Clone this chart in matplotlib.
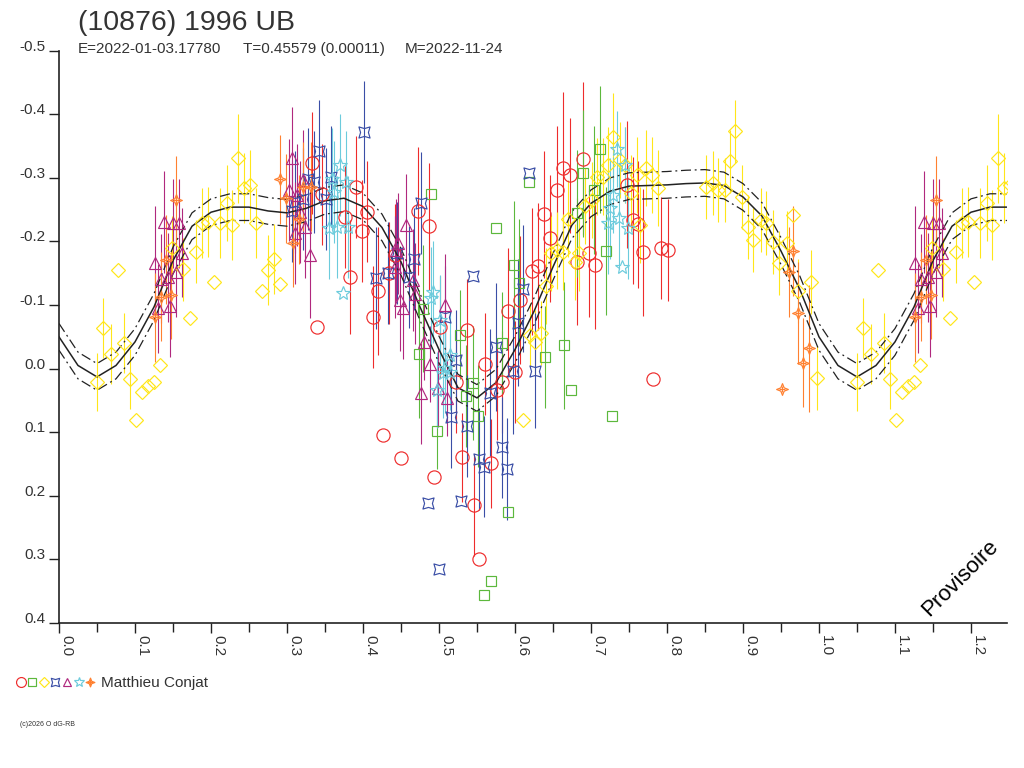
import numpy as np
import matplotlib
matplotlib.use('Agg')
import matplotlib.pyplot as plt
from matplotlib.path import Path
from matplotlib.transforms import Affine2D
from matplotlib.lines import Line2D
from matplotlib.legend_handler import HandlerTuple

plt.rcParams['font.family'] = ['Liberation Sans', 'DejaVu Sans']

# ---------------- text ----------------
TITLE = "(10876) 1996 UB"
SUB_E = "E=2022-01-03.17780"
SUB_T = "T=0.45579 (0.00011)"
SUB_M = "M=2022-11-24"
OBSERVER = "Matthieu Conjat"
STAMP = "(c)2026 O dG-RB"
WATERMARK = "Provisoire"

# ---------------- axes ----------------
PHASE_MAX = 1.2474
x_ticks = [0.0, 0.1, 0.2, 0.3, 0.4, 0.5, 0.6, 0.7, 0.8, 0.9, 1.0, 1.1, 1.2]
x_tick_labels = ["0.0", "0.1", "0.2", "0.3", "0.4", "0.5", "0.6", "0.7", "0.8", "0.9", "1.0", "1.1", "1.2"]
y_ticks = [-0.5, -0.4, -0.3, -0.2, -0.1, 0.0, 0.1, 0.2, 0.3, 0.4]
y_tick_labels = ["-0.5", "-0.4", "-0.3", "-0.2", "-0.1", "0.0", "0.1", "0.2", "0.3", "0.4"]

# ---------------- fitted curve ----------------
fit_phase = [0.000, 0.025, 0.050, 0.075, 0.100, 0.125, 0.150, 0.175, 0.200, 0.225,
             0.250, 0.275, 0.300, 0.325, 0.350, 0.375, 0.400, 0.425, 0.450, 0.475,
             0.500, 0.525, 0.550, 0.575, 0.600, 0.625, 0.650, 0.675, 0.700, 0.725,
             0.750, 0.775, 0.800, 0.825, 0.850, 0.875, 0.900, 0.925, 0.950, 0.975, 1.000]
fit_mag = [-0.050, -0.005, 0.013, -0.005, -0.042, -0.097, -0.170, -0.224, -0.246, -0.254,
           -0.254, -0.248, -0.245, -0.252, -0.264, -0.268, -0.255, -0.222, -0.168, -0.097,
           -0.030, 0.030, 0.046, 0.022, -0.030, -0.090, -0.160, -0.226, -0.260, -0.279,
           -0.287, -0.288, -0.289, -0.291, -0.292, -0.288, -0.270, -0.240, -0.185, -0.124, -0.050]
fit_sigma = 0.021

# ---------------- observations ----------------
red_phase = [0.333, 0.339, 0.346, 0.376, 0.383, 0.391, 0.399, 0.405, 0.413, 0.420,
             0.434, 0.442, 0.472, 0.487, 0.501, 0.537, 0.560, 0.426, 0.450, 0.493,
             0.591, 0.607, 0.623, 0.630, 0.638, 0.646, 0.530, 0.568, 0.546, 0.553,
             0.522, 0.583, 0.576, 0.600, 0.681, 0.697, 0.705, 0.755, 0.762, 0.769,
             0.792, 0.801, 0.781, 0.663, 0.673, 0.689, 0.655, 0.747]
red_mag = [-0.323, -0.066, -0.274, -0.238, -0.144, -0.286, -0.217, -0.247, -0.081, -0.122,
           -0.150, -0.179, -0.248, -0.224, -0.066, -0.061, -0.007, 0.105, 0.141, 0.171,
           -0.090, -0.108, -0.153, -0.161, -0.243, -0.205, 0.139, 0.149, 0.214, 0.300,
           0.021, 0.021, 0.033, 0.005, -0.168, -0.182, -0.163, -0.233, -0.227, -0.183,
           -0.190, -0.187, 0.017, -0.315, -0.304, -0.330, -0.281, -0.289]
red_err = [0.08, 0.0, 0.08, 0.08, 0.09, 0.08, 0.08, 0.08, 0.08, 0.10,
           0.08, 0.08, 0.10, 0.10, 0.08, 0.08, 0.08, 0.0, 0.0, 0.0,
           0.10, 0.10, 0.10, 0.10, 0.10, 0.10, 0.07, 0.07, 0.08, 0.0,
           0.08, 0.08, 0.08, 0.08, 0.10, 0.10, 0.10, 0.10, 0.10, 0.10,
           0.08, 0.08, 0.0, 0.12, 0.09, 0.12, 0.10, 0.10]

green_phase = [0.575, 0.599, 0.605, 0.528, 0.583, 0.474, 0.545, 0.536, 0.551, 0.497,
               0.591, 0.568, 0.559, 0.665, 0.674, 0.640, 0.681, 0.720, 0.728, 0.479,
               0.712, 0.689, 0.704, 0.618, 0.489]
green_mag = [-0.221, -0.163, -0.135, -0.053, -0.040, -0.023, 0.023, 0.043, 0.074, 0.098,
             0.226, 0.334, 0.356, -0.037, 0.033, -0.018, -0.244, -0.185, 0.074, -0.094,
             -0.345, -0.307, -0.281, -0.293, -0.275]
green_err = [0.0, 0.10, 0.10, 0.07, 0.08, 0.10, 0.09, 0.08, 0.08, 0.06,
             0.0, 0.0, 0.0, 0.10, 0.0, 0.08, 0.10, 0.10, 0.0, 0.10,
             0.10, 0.10, 0.10, 0.0, 0.0]

yellow_phase = [0.050, 0.058, 0.068, 0.086, 0.093, 0.101, 0.109, 0.117, 0.125, 0.133,
                0.078, 0.172, 0.163, 0.180, 0.188, 0.196, 0.212, 0.228, 0.221, 0.204,
                0.259, 0.267, 0.275, 0.283, 0.291, 0.236, 0.243, 0.251, 0.149, 0.611,
                0.620, 0.626, 0.634, 0.641, 0.648, 0.655, 0.663, 0.670, 0.679, 0.684,
                0.692, 0.701, 0.708, 0.716, 0.722, 0.729, 0.738, 0.745, 0.753, 0.760,
                0.765, 0.773, 0.780, 0.788, 0.851, 0.861, 0.867, 0.876, 0.883, 0.889,
                0.899, 0.906, 0.913, 0.924, 0.930, 0.939, 0.947, 0.958, 0.966, 0.972,
                0.989, 0.997]
yellow_mag = [0.021, -0.064, -0.023, -0.040, 0.016, 0.081, 0.037, 0.028, 0.021, -0.006,
              -0.155, -0.079, -0.156, -0.184, -0.229, -0.231, -0.229, -0.226, -0.260, -0.136,
              -0.229, -0.122, -0.155, -0.172, -0.133, -0.331, -0.284, -0.289, -0.190, 0.081,
              -0.053, -0.042, -0.056, -0.130, -0.182, -0.186, -0.183, -0.236, -0.168, -0.182,
              -0.256, -0.265, -0.302, -0.302, -0.320, -0.364, -0.328, -0.320, -0.276, -0.304,
              -0.226, -0.315, -0.304, -0.284, -0.286, -0.292, -0.281, -0.281, -0.326, -0.373,
              -0.270, -0.223, -0.202, -0.234, -0.229, -0.199, -0.166, -0.198, -0.241, -0.122,
              -0.136, 0.015]
yellow_err = [0.046, 0.047, 0.047, 0.047, 0.047, 0.0, 0.0, 0.0, 0.0, 0.0,
              0.0, 0.0, 0.05, 0.05, 0.055, 0.055, 0.055, 0.055, 0.06, 0.0,
              0.055, 0.0, 0.055, 0.055, 0.0, 0.07, 0.055, 0.055, 0.05, 0.0,
              0.05, 0.05, 0.05, 0.06, 0.06, 0.06, 0.06, 0.06, 0.06, 0.06,
              0.06, 0.06, 0.06, 0.06, 0.06, 0.07, 0.06, 0.06, 0.06, 0.06,
              0.06, 0.06, 0.06, 0.06, 0.05, 0.05, 0.05, 0.05, 0.05, 0.05,
              0.05, 0.05, 0.05, 0.05, 0.05, 0.05, 0.05, 0.05, 0.0, 0.05,
              0.05, 0.05]

blue_phase = [0.401, 0.342, 0.328, 0.335, 0.358, 0.351, 0.321, 0.307, 0.311, 0.476,
              0.417, 0.433, 0.445, 0.467, 0.461, 0.545, 0.508, 0.522, 0.575, 0.567,
              0.516, 0.537, 0.583, 0.589, 0.553, 0.559, 0.486, 0.529, 0.500, 0.597,
              0.604, 0.611, 0.626, 0.619]
blue_mag = [-0.372, -0.342, -0.298, -0.294, -0.302, -0.267, -0.267, -0.248, -0.262, -0.260,
            -0.142, -0.150, -0.182, -0.173, -0.144, -0.146, -0.081, -0.013, -0.034, 0.038,
            0.076, 0.090, 0.124, 0.158, 0.142, 0.154, 0.212, 0.208, 0.315, 0.003,
            -0.072, -0.126, 0.003, -0.307]
blue_err = [0.08, 0.08, 0.08, 0.08, 0.08, 0.08, 0.08, 0.08, 0.08, 0.08,
            0.08, 0.08, 0.08, 0.08, 0.08, 0.0, 0.08, 0.08, 0.10, 0.10,
            0.08, 0.08, 0.08, 0.08, 0.08, 0.08, 0.0, 0.0, 0.0, 0.10,
            0.10, 0.10, 0.09, 0.0]

purple_phase = [0.126, 0.138, 0.150, 0.158, 0.162, 0.154, 0.143, 0.134, 0.146, 0.130,
                0.330, 0.307, 0.303, 0.313, 0.324, 0.311, 0.321, 0.317, 0.457, 0.446,
                0.443, 0.449, 0.453, 0.466, 0.469, 0.480, 0.488, 0.508, 0.442, 0.476,
                0.499, 0.510]
purple_mag = [-0.166, -0.231, -0.229, -0.229, -0.182, -0.152, -0.144, -0.141, -0.098, -0.095,
              -0.179, -0.331, -0.281, -0.273, -0.223, -0.213, -0.296, -0.246, -0.226, -0.197,
              -0.187, -0.108, -0.095, -0.139, -0.118, -0.042, -0.007, -0.100, -0.160, 0.039,
              0.031, 0.046]
purple_err = [0.09, 0.08, 0.07, 0.07, 0.07, 0.07, 0.07, 0.07, 0.08, 0.07,
              0.10, 0.08, 0.08, 0.08, 0.08, 0.08, 0.08, 0.08, 0.08, 0.08,
              0.08, 0.08, 0.08, 0.08, 0.08, 0.06, 0.06, 0.08, 0.08, 0.08,
              0.06, 0.06]

cyan_phase = [0.370, 0.378, 0.359, 0.362, 0.355, 0.366, 0.380, 0.374, 0.492, 0.489,
              0.501, 0.514, 0.505, 0.508, 0.497, 0.514, 0.725, 0.737, 0.722, 0.749,
              0.741, 0.734, 0.745, 0.729]
cyan_mag = [-0.320, -0.294, -0.298, -0.278, -0.221, -0.223, -0.223, -0.119, -0.120, -0.111,
            -0.077, -0.022, 0.007, -0.001, 0.034, 0.005, -0.252, -0.237, -0.229, -0.221,
            -0.160, -0.345, -0.320, -0.273]
cyan_err = [0.08, 0.08, 0.08, 0.08, 0.08, 0.08, 0.08, 0.0, 0.08, 0.08,
            0.07, 0.07, 0.07, 0.07, 0.06, 0.06, 0.08, 0.08, 0.08, 0.08,
            0.0, 0.06, 0.06, 0.06]

orange_phase = [0.154, 0.141, 0.147, 0.134, 0.126, 0.291, 0.299, 0.321, 0.332, 0.316,
                0.308, 0.966, 0.960, 0.973, 0.987, 0.979, 0.951]
orange_mag = [-0.265, -0.171, -0.116, -0.113, -0.081, -0.298, -0.268, -0.286, -0.286, -0.235,
              -0.198, -0.185, -0.152, -0.087, -0.032, -0.009, 0.032]
orange_err = [0.07, 0.07, 0.07, 0.07, 0.07, 0.07, 0.07, 0.07, 0.07, 0.07,
              0.07, 0.07, 0.07, 0.08, 0.10, 0.07, 0.0]

# ---------------- markers ----------------
blue_marker = Affine2D().rotate_deg(45).transform_path(Path.unit_regular_star(4, 0.5))
_o_star = Path.unit_regular_star(4, 0.4)
orange_marker = Path.make_compound_path(
    _o_star,
    Path([(-0.5, 0.0), (0.5, 0.0)], [Path.MOVETO, Path.LINETO]),
    Path([(0.0, -0.5), (0.0, 0.5)], [Path.MOVETO, Path.LINETO]))

series = [
    (red_phase, red_mag, red_err, '#ee2c2c', 'o', 9.5),
    (green_phase, green_mag, green_err, '#5cb83c', 's', 6.8),
    (yellow_phase, yellow_mag, yellow_err, '#ffe619', 'D', 7.0),
    (blue_phase, blue_mag, blue_err, '#3a4ea6', blue_marker, 8.0),
    (purple_phase, purple_mag, purple_err, '#b0287e', '^', 8.5),
    (cyan_phase, cyan_mag, cyan_err, '#6ccbdc', '*', 10.0),
    (orange_phase, orange_mag, orange_err, '#ff8030', orange_marker, 8.5),
]

W, H = 1024, 768
fig = plt.figure(figsize=(W / 100, H / 100), dpi=100)
ax = fig.add_axes([59 / W, 1 - 623 / H, (1007 - 59) / W, (623 - 50.7) / H])

TXT = '#333333'
AX = '#222222'

for ph, mg, er, col, mk, ms in series:
    ph = np.asarray(ph)
    mg = np.asarray(mg)
    er = np.asarray(er)
    rep = ph + 1.0 <= PHASE_MAX + 0.01
    P = np.concatenate([ph, ph[rep] + 1.0])
    M = np.concatenate([mg, mg[rep]])
    E = np.concatenate([er, er[rep]])
    has = E > 0
    ax.errorbar(P[has], M[has], yerr=E[has], fmt='none', ecolor=col,
                elinewidth=0.8, capsize=0, zorder=2)
    ax.plot(P, M, linestyle='none', marker=mk, ms=ms, mfc='none', mec=col,
            mew=0.85, zorder=4)

fp = np.asarray(fit_phase)
fm = np.asarray(fit_mag)
ext = (fp > 0) & (fp + 1.0 <= PHASE_MAX + 0.03)
FP = np.concatenate([fp, fp[ext] + 1.0])
FM = np.concatenate([fm, fm[ext]])
ax.plot(FP, FM, color=AX, lw=1.1, zorder=3)
ax.plot(FP, FM - fit_sigma, color=AX, lw=0.9, ls=(0, (8, 3, 1.5, 3)), zorder=3)
ax.plot(FP, FM + fit_sigma, color=AX, lw=0.9, ls=(0, (8, 3, 1.5, 3)), zorder=3)

ax.set_xlim(0, PHASE_MAX)
ax.set_ylim(0.4, -0.5)

for s in ['top', 'right']:
    ax.spines[s].set_visible(False)
for s in ['left', 'bottom']:
    ax.spines[s].set_color(AX)
    ax.spines[s].set_linewidth(1.2)

ax.set_xticks(x_ticks)
ax.set_xticklabels(x_tick_labels, rotation=-90, ha='left', va='top')
ax.set_xticks(np.arange(0.05, PHASE_MAX, 0.1), minor=True)
ax.set_yticks(y_ticks)
ax.set_yticklabels(y_tick_labels, va='baseline')
ax.tick_params(axis='both', which='major', direction='out', length=7.5, width=1.0,
               color=AX, labelsize=11, labelcolor=TXT)
ax.tick_params(axis='x', which='minor', direction='out', length=6.5, width=1.0, color=AX)
ax.tick_params(axis='x', which='major', pad=1)
ax.tick_params(axis='y', which='major', pad=2)

# header
fig.text(78 / W, 1 - 30 / H, TITLE, fontsize=20.5, color=TXT, va='baseline', ha='left')
fig.text(78 / W, 1 - 53 / H, SUB_E, fontsize=11, color=TXT, va='baseline', ha='left')
fig.text(243 / W, 1 - 53 / H, SUB_T, fontsize=11, color=TXT, va='baseline', ha='left')
fig.text(405 / W, 1 - 53 / H, SUB_M, fontsize=11, color=TXT, va='baseline', ha='left')

# watermark
fig.text(960 / W, 1 - 578 / H, WATERMARK, fontsize=16, color='black', rotation=45,
         ha='center', va='center')

# legend
handles = tuple(Line2D([], [], linestyle='none', marker=mk, ms=ms * 0.75, mfc='none',
                       mec=col, mew=0.85) for _, _, _, col, mk, ms in series)
fig.legend([handles], [OBSERVER], handler_map={tuple: HandlerTuple(ndivide=None, pad=0.0)},
           loc='center left', bbox_to_anchor=(15 / W, 1 - 683 / H), frameon=False,
           handlelength=5.3, handletextpad=0.35, borderpad=0, borderaxespad=0,
           prop={'size': 11}, labelcolor=TXT)

fig.text(20 / W, 1 - 725 / H, STAMP, fontsize=5, color=TXT, va='center', ha='left')

fig.savefig('out.png', dpi=100)
